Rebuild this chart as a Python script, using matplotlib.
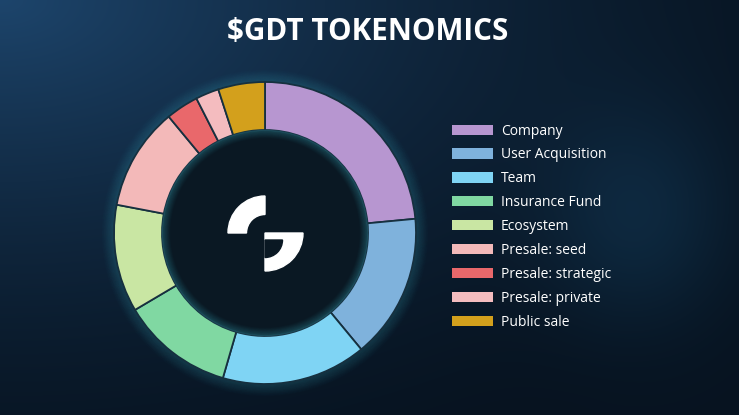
import numpy as np
import matplotlib.pyplot as plt
from matplotlib.patches import Circle, Wedge, Patch

labels = ["Company", "User Acquisition", "Team", "Insurance Fund", "Ecosystem",
          "Presale: seed", "Presale: strategic", "Presale: private", "Public sale"]
shares = [23.5, 15.5, 15.5, 12, 11.5, 11, 3.5, 2.5, 5]
colors = ["#b796d0", "#7fb2dc", "#7fd4f4", "#80d8a2", "#c9e6a3",
          "#f3b9b9", "#e9686b", "#f4bcbf", "#d3a01c"]

W, H = 739, 415
CX, CY = 265, H - 233
R_OUT, R_IN = 151, 103
INNER_BG = '#0a1823'


def background():
    yy, xx = np.mgrid[0:H, 0:W]
    d = np.clip(np.hypot(xx / W, yy / H) / 1.25, 0, 1)
    light = np.array([0x1d, 0x45, 0x6c]) / 255
    dark = np.array([0x07, 0x13, 0x20]) / 255
    t = (1 - d[..., None]) ** 1.6
    img = light[None, None, :] * t + dark[None, None, :] * (1 - t)
    # faint bluish wave band on the right
    band = np.exp(-((xx - 640) ** 2) / 9000 - ((yy - 220) ** 2) / 12000)
    img += band[..., None] * np.array([0.02, 0.07, 0.10])
    return np.clip(img, 0, 1)


def main():
    plt.rcParams['font.family'] = ['Open Sans', 'DejaVu Sans']
    fig = plt.figure(figsize=(W / 100, H / 100), dpi=100)
    ax = fig.add_axes([0, 0, 1, 1])
    ax.imshow(background(), extent=(0, W, 0, H), origin='upper', zorder=0)

    # glow around the ring
    for k in range(14):
        ax.add_patch(Circle((CX, CY), R_OUT + k * 0.9, fill=False,
                            edgecolor='#45d6e8', lw=1.2, alpha=0.10 * (1 - k / 14), zorder=1))
    ax.add_patch(Circle((CX, CY), R_IN, color=INNER_BG, zorder=1))

    wedges, _ = ax.pie(shares, colors=colors, startangle=90, counterclock=False,
                       center=(CX, CY), radius=R_OUT, frame=True,
                       wedgeprops=dict(width=R_OUT - R_IN, edgecolor='#16303f', linewidth=1.3))
    for w in wedges:
        w.set_zorder(2)

    # inner glow
    for k in range(10):
        ax.add_patch(Circle((CX, CY), R_IN - 0.5 - k * 0.8, fill=False,
                            edgecolor='#45d6e8', lw=1.2, alpha=0.12 * (1 - k / 10), zorder=2.5))

    # logo
    ax.add_patch(Wedge((CX, CY), 37, 90, 180, width=18.5, color='white', zorder=3))
    ax.add_patch(Wedge((CX, CY), 38, 270, 360, color='white', zorder=3))
    ax.add_patch(Wedge((CX, CY - 7), 17.5, 270, 360, color=INNER_BG, zorder=3.5))

    ax.text(368, H - 32, "$GDT TOKENOMICS", ha='center', va='center', color='white',
            fontsize=21.3, fontweight='bold', zorder=4)

    handles = [Patch(facecolor=c, edgecolor='none') for c in colors]
    leg = ax.legend(handles, labels, loc='upper left', bbox_to_anchor=(440 / W, 1 - 111 / H),
                    frameon=False, fontsize=10, labelcolor='white', handlelength=2.95,
                    handleheight=0.75, handletextpad=0.55, labelspacing=0.64)
    leg.set_zorder(4)

    ax.set_xlim(0, W)
    ax.set_ylim(0, H)
    ax.set_aspect('auto')
    ax.axis('off')
    fig.savefig('out.png', dpi=100)


if __name__ == '__main__':
    main()
